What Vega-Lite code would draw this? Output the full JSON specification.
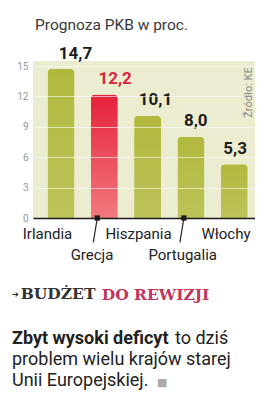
{
  "$schema": "https://vega.github.io/schema/vega-lite/v6.json",
  "padding": {"left": 12, "top": 17, "right": 0, "bottom": 0},
  "bounds": "flush",
  "spacing": 0,
  "config": {
    "view": {"stroke": null},
    "font": "Roboto",
    "locale": {"number": {"decimal": ",", "thousands": "\u00a0", "grouping": [3], "currency": ["", " zł"]}}
  },
  "vconcat": [
    {"width": 1, "height": 16, "data": {"values": [{}]}, "mark": {"type": "text", "fontSize": 0}, "encoding": {},
      "title": {"text": "Prognoza PKB w proc.", "orient": "top", "anchor": "start", "baseline": "alphabetic", "offset": 0, "dx": 2, "font": "Roboto", "fontSize": 15.5, "fontWeight": "normal", "color": "#3a3a3a"}},
    {
      "width": 222,
      "height": 157,
      "view": {"fill": "#ecedd0", "stroke": null},
      "data": {"values": [
        {"country": "Irlandia", "value": 14.7},
        {"country": "Grecja", "value": 12.2},
        {"country": "Hiszpania", "value": 10.1},
        {"country": "Portugalia", "value": 8.0},
        {"country": "Włochy", "value": 5.3}
      ]},
      "encoding": {
        "x": {
          "field": "country", "type": "nominal", "sort": null,
          "scale": {"domain": ["Irlandia", "Grecja", "Hiszpania", "Portugalia", "Włochy"], "paddingInner": 0.376, "paddingOuter": 0.2515, "align": 0.665},
          "axis": {
            "title": null, "labelAngle": 0, "ticks": false, "tickSize": 0,
            "domainColor": "#1a1a1a", "domainWidth": 1.6,
            "labelFontSize": 15, "labelColor": "#222222", "labelFont": "Roboto",
            "labelOverlap": false, "labelBound": false, "zindex": 2,
            "labelPadding": {"condition": {"test": "datum.value === 'Grecja' || datum.value === 'Portugalia'", "value": 29}, "value": 8},
            "labelOffset": {"condition": [
              {"test": "datum.value === 'Irlandia'", "value": -13.5},
              {"test": "datum.value === 'Grecja'", "value": -12.3},
              {"test": "datum.value === 'Hiszpania'", "value": -9.1}
            ], "value": -8.2}
          }
        },
        "y": {
          "field": "value", "type": "quantitative",
          "scale": {"domain": [0, 15.5], "nice": false, "zero": true},
          "axis": {
            "values": [0, 3, 6, 9, 12, 15], "ticks": false, "domain": false,
            "labelPadding": 5, "labelFontSize": 10, "labelColor": "#999999", "labelFont": "Roboto",
            "gridColor": "#ffffff", "gridOpacity": 0.6, "gridWidth": 1, "zindex": 1,
            "title": "Źródło: KE", "titleX": 215, "titleY": 31, "titleAngle": 270,
            "titleAlign": "center", "titleBaseline": "middle", "titleFontSize": 11,
            "titleFontWeight": "normal", "titleColor": "#888888", "titleFont": "Roboto"
          }
        }
      },
      "layer": [
        {
          "transform": [{"filter": "datum.country !== 'Grecja'"}],
          "mark": {"type": "bar", "cornerRadiusTopLeft": 4, "cornerRadiusTopRight": 4,
            "color": {"gradient": "linear", "x1": 0, "y1": 0, "x2": 0, "y2": 1,
              "stops": [{"offset": 0, "color": "#b1b93d"}, {"offset": 1, "color": "#bdc35a"}]}}
        },
        {
          "transform": [{"filter": "datum.country === 'Grecja'"}],
          "mark": {"type": "bar", "cornerRadiusTopLeft": 4, "cornerRadiusTopRight": 4,
            "color": {"gradient": "linear", "x1": 0, "y1": 0, "x2": 0, "y2": 1,
              "stops": [{"offset": 0, "color": "#e5213b"}, {"offset": 1, "color": "#f2797f"}]}}
        },
        {
          "mark": {"type": "text", "baseline": "alphabetic", "dy": -10.5, "dx": {"expr": "1.43 * datum.value - 6.6"}, "fontSize": 17, "fontWeight": "bold", "font": "Roboto"},
          "encoding": {
            "text": {"field": "value", "type": "quantitative", "format": ".1f"},
            "color": {"condition": {"test": "datum.country === 'Grecja'", "value": "#d7263d"}, "value": "#1c1c1c"}
          }
        },
        {
          "transform": [{"filter": "datum.country === 'Grecja' || datum.country === 'Portugalia'"}],
          "mark": {"type": "rule", "xOffset": -7, "x2Offset": -11, "strokeWidth": 1.2, "color": "#222222"},
          "encoding": {
            "x2": {"field": "country"},
            "y": {"datum": 0},
            "y2": {"datum": -2.4}
          }
        },
        {
          "transform": [{"filter": "datum.country === 'Grecja' || datum.country === 'Portugalia'"}],
          "mark": {"type": "point", "shape": "square", "filled": true, "size": 28, "opacity": 1, "color": "#1a1a1a", "xOffset": -7},
          "encoding": {
            "y": {"datum": 0}
          }
        }
      ]
    },
    {"width": 1, "height": 81, "data": {"values": [{}]}, "mark": {"type": "text", "fontSize": 0}, "encoding": {},
      "title": {"text": "➔", "orient": "bottom", "anchor": "start", "baseline": "alphabetic", "offset": 0, "dx": -21, "dy": -2.5, "font": "DejaVu Sans", "fontSize": 8, "fontWeight": "bold", "color": "#222222"}},
    {"width": 1, "height": 0.01, "data": {"values": [{}]}, "mark": {"type": "text", "fontSize": 0}, "encoding": {},
      "title": {"text": "BUDŻET", "orient": "bottom", "anchor": "start", "baseline": "alphabetic", "offset": 0, "dx": -12.3, "font": "DejaVu Serif", "fontSize": 15.5, "fontWeight": "bold", "color": "#333333"}},
    {"width": 1, "height": 0.01, "data": {"values": [{}]}, "mark": {"type": "text", "fontSize": 0}, "encoding": {},
      "title": {"text": "DO REWIZJI", "orient": "bottom", "anchor": "start", "baseline": "alphabetic", "offset": 0, "dx": 68.7, "font": "DejaVu Serif", "fontSize": 15.5, "fontWeight": "bold", "color": "#c3355a"}},
    {"width": 1, "height": 43, "data": {"values": [{}]}, "mark": {"type": "text", "fontSize": 0}, "encoding": {},
      "title": {"text": "Zbyt wysoki deficyt", "orient": "bottom", "anchor": "start", "baseline": "alphabetic", "offset": 0, "dx": -21, "font": "Roboto", "fontSize": 18, "fontWeight": "bold", "color": "#222222"}},
    {"width": 1, "height": 0.01, "data": {"values": [{}]}, "mark": {"type": "text", "fontSize": 0}, "encoding": {},
      "title": {"text": "to dziś", "orient": "bottom", "anchor": "start", "baseline": "alphabetic", "offset": 0, "dx": 142, "font": "Roboto", "fontSize": 18, "fontWeight": "normal", "color": "#222222"}},
    {"width": 1, "height": 19.7, "data": {"values": [{}]}, "mark": {"type": "text", "fontSize": 0}, "encoding": {},
      "title": {"text": "problem wielu krajów starej", "orient": "bottom", "anchor": "start", "baseline": "alphabetic", "offset": 0, "dx": -21, "font": "Roboto", "fontSize": 18, "fontWeight": "normal", "color": "#222222"}},
    {"width": 1, "height": 20.5, "data": {"values": [{}]}, "mark": {"type": "text", "fontSize": 0}, "encoding": {},
      "title": {"text": "Unii Europejskiej.", "orient": "bottom", "anchor": "start", "baseline": "alphabetic", "offset": 0, "dx": -21, "font": "Roboto", "fontSize": 18, "fontWeight": "normal", "color": "#222222"}},
    {"width": 1, "height": 0.01, "data": {"values": [{}]}, "mark": {"type": "text", "fontSize": 0}, "encoding": {},
      "title": {"text": "■", "orient": "bottom", "anchor": "start", "baseline": "alphabetic", "offset": 0, "dx": 124, "font": "DejaVu Sans", "fontSize": 11, "fontWeight": "normal", "color": "#aaaaaa"}}
  ]
}
